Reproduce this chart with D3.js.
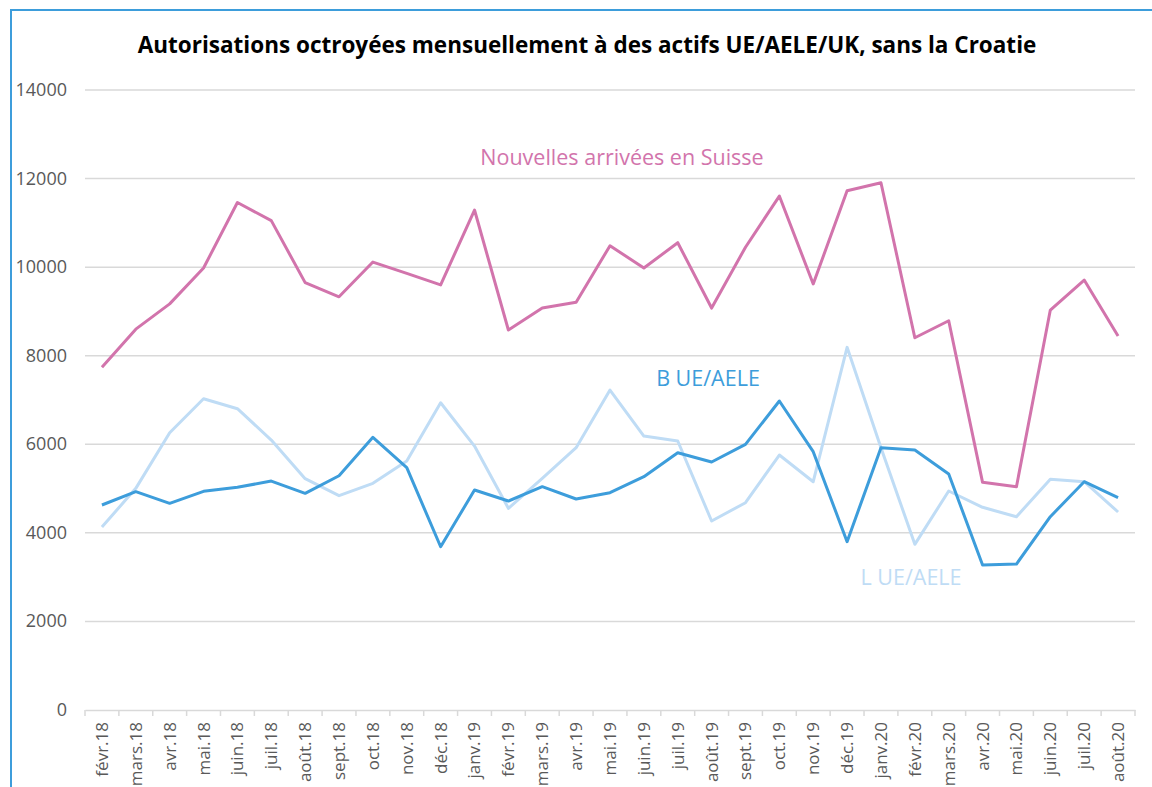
<!DOCTYPE html>
<html>
<head>
<meta charset="utf-8">
<script src="https://cdn.jsdelivr.net/npm/d3@7"></script>
<style>
  body { margin: 0; background: #fff; }
  svg { display: block; font-family: "Open Sans", "Noto Sans", sans-serif; }
</style>
</head>
<body>
<svg id="chart" width="1152" height="787"></svg>
<script>
// months, févr.18 -> août.20
const months = ["févr.18", "mars.18", "avr.18", "mai.18", "juin.18", "juil.18", "août.18", "sept.18",
  "oct.18", "nov.18", "déc.18", "janv.19", "févr.19", "mars.19", "avr.19", "mai.19", "juin.19",
  "juil.19", "août.19", "sept.19", "oct.19", "nov.19", "déc.19", "janv.20", "févr.20", "mars.20",
  "avr.20", "mai.20", "juin.20", "juil.20", "août.20"];

const nouvelles = [7740, 8600, 9170, 9980, 11460, 11050, 9650, 9330, 10115, 9860, 9600, 11290,
  8580, 9076, 9205, 10484, 9980, 10552, 9076, 10450, 11605, 9620, 11725, 11906, 8406, 8790,
  5141, 5042, 9031, 9709, 8444];

const bUeAele = [4629, 4930, 4667, 4938, 5028, 5170, 4893, 5290, 6157, 5471, 3687, 4967,
  4719, 5042, 4764, 4907, 5268, 5810, 5600, 5998, 6977, 5833, 3800, 5923, 5870, 5329,
  3274, 3296, 4365, 5155, 4794];

const lUeAele = [4132, 5005, 6261, 7029, 6803, 6096, 5223, 4839, 5118, 5622, 6938, 5960,
  4554, 5231, 5923, 7225, 6186, 6074, 4267, 4681, 5757, 5155, 8189, 5923, 3741, 4945,
  4577, 4365, 5209, 5155, 4471];

const yTicks = [0, 2000, 4000, 6000, 8000, 10000, 12000, 14000];

const svg = d3.select("#chart");
const mLeft = 85, mRight = 1135, mTop = 90, mBottom = 710;

// frame
svg.append("rect")
  .attr("x", 11).attr("y", 10)
  .attr("width", 1160).attr("height", 800)
  .attr("fill", "none")
  .attr("stroke", "#3d9ddb")
  .attr("stroke-width", 2);

svg.append("text")
  .attr("x", 587).attr("y", 53)
  .attr("text-anchor", "middle")
  .attr("font-weight", "bold")
  .attr("font-size", 22.5)
  .attr("fill", "#000")
  .text("Autorisations octroyées mensuellement à des actifs UE/AELE/UK, sans la Croatie");

const x = d3.scaleBand().domain(months).range([mLeft, mRight]);
const y = d3.scaleLinear().domain([0, 14000]).range([mBottom, mTop]);

// grid
svg.append("g")
  .selectAll("line")
  .data(yTicks.filter(d => d > 0))
  .enter().append("line")
  .attr("x1", mLeft).attr("x2", mRight)
  .attr("y1", d => y(d)).attr("y2", d => y(d))
  .attr("stroke", "#d9d9d9")
  .attr("stroke-width", 1.5);

// y labels
svg.append("g")
  .selectAll("text")
  .data(yTicks)
  .enter().append("text")
  .attr("x", 67)
  .attr("y", d => y(d) + 6)
  .attr("text-anchor", "end")
  .attr("font-size", 18)
  .attr("fill", "#595959")
  .text(d => d);

// x axis
const xAxis = svg.append("g")
  .attr("transform", "translate(0," + mBottom + ")")
  .call(d3.axisBottom(x).tickSize(0).tickPadding(0));
xAxis.select(".domain").attr("stroke", "#d9d9d9").attr("stroke-width", 1.5);
xAxis.selectAll("text")
  .attr("font-family", "Open Sans, sans-serif")
  .attr("font-size", 17)
  .attr("fill", "#595959")
  .attr("text-anchor", "end")
  .attr("transform", "rotate(-90)")
  .attr("x", -12)
  .attr("y", 0)
  .attr("dy", "0.35em");

// tick marks at band edges
svg.append("g")
  .selectAll("line")
  .data(months.map((m, i) => i).concat([months.length]))
  .enter().append("line")
  .attr("x1", i => mLeft + i * x.step())
  .attr("x2", i => mLeft + i * x.step())
  .attr("y1", mBottom).attr("y2", mBottom + 6)
  .attr("stroke", "#d9d9d9")
  .attr("stroke-width", 1.5);

const line = d3.line()
  .x((d, i) => x(months[i]) + x.bandwidth() / 2)
  .y(d => y(d));

const series = [
  { values: lUeAele, color: "#bfdcf5" },
  { values: bUeAele, color: "#3d9ddb" },
  { values: nouvelles, color: "#d274ac" }
];

svg.append("g")
  .selectAll("path")
  .data(series)
  .enter().append("path")
  .attr("d", d => line(d.values))
  .attr("fill", "none")
  .attr("stroke", d => d.color)
  .attr("stroke-width", 3)
  .attr("stroke-linejoin", "round");

// series labels
svg.append("text").attr("x", 622).attr("y", 165).attr("text-anchor", "middle")
  .attr("font-size", 21.5).attr("fill", "#d274ac").text("Nouvelles arrivées en Suisse");
svg.append("text").attr("x", 708).attr("y", 386).attr("text-anchor", "middle")
  .attr("font-size", 21.5).attr("fill", "#3d9ddb").text("B UE/AELE");
svg.append("text").attr("x", 911).attr("y", 585).attr("text-anchor", "middle")
  .attr("font-size", 21.5).attr("fill", "#bfdcf5").text("L UE/AELE");
</script>
</body>
</html>
